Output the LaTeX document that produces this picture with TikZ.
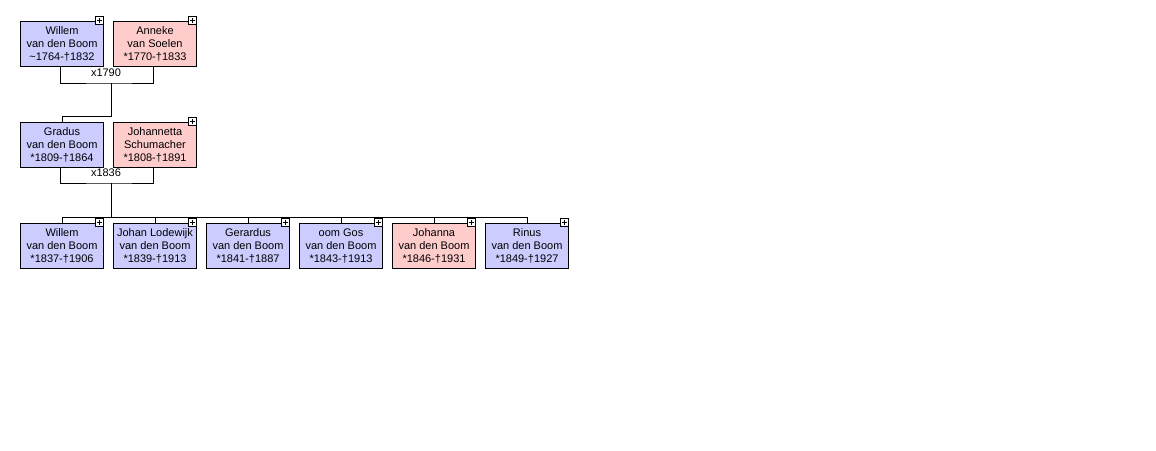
\documentclass[tikz,border=0pt]{standalone}
\usepackage{fontspec}
\setmainfont{Liberation Sans}
\definecolor{mblue}{HTML}{CCCCFF}
\definecolor{fpink}{HTML}{FFCCCC}
\tikzset{
  person/.style={draw=black, line width=1pt, minimum width=83pt, minimum height=45pt, inner sep=0pt,
    anchor=north west, align=center, font=\fontsize{11}{13}\selectfont},
  male/.style={person, fill=mblue},
  female/.style={person, fill=fpink},
  plusbox/.style={draw=black, line width=0.8pt, fill=white, minimum size=8pt, inner sep=0pt, anchor=east,
    path picture={
      \draw[line width=0.8pt] ([xshift=-2.6pt]path picture bounding box.center) -- ([xshift=2.6pt]path picture bounding box.center);
      \draw[line width=0.8pt] ([yshift=-2.6pt]path picture bounding box.center) -- ([yshift=2.6pt]path picture bounding box.center);
    }},
  conn/.style={draw=black, line width=1pt},
  mlabel/.style={font=\fontsize{11}{13}\selectfont, inner sep=0pt}
}
\begin{document}
\begin{tikzpicture}[x=1pt,y=-1pt]
\useasboundingbox (0,0) rectangle (1156,450);
% generation 1
\node[male]   (w1) at (20,21)  {Willem\\van den Boom\\\raisebox{0pt}{\textasciitilde}1764-†1832};
\node[female] (a1) at (113,21) {Anneke\\van Soelen\\*1770-†1833};
% generation 2
\node[male]   (g2) at (20,122)  {Gradus\\van den Boom\\*1809-†1864};
\node[female] (j2) at (113,122) {Johannetta\\Schumacher\\*1808-†1891};
% generation 3
\node[male]   (c1) at (20,223)  {Willem\\van den Boom\\*1837-†1906};
\node[male]   (c2) at (113,223) {Johan Lodewijk\\van den Boom\\*1839-†1913};
\node[male]   (c3) at (206,223) {Gerardus\\van den Boom\\*1841-†1887};
\node[male]   (c4) at (299,223) {oom Gos\\van den Boom\\*1843-†1913};
\node[female] (c5) at (392,223) {Johanna\\van den Boom\\*1846-†1931};
\node[male]   (c6) at (485,223) {Rinus\\van den Boom\\*1849-†1927};
% plus boxes
\foreach \n in {w1,a1,j2,c1,c2,c3,c4,c5,c6}
  \node[plusbox] (p\n) at ([yshift=0.5pt]\n.north east) {};
% marriage 1
\coordinate (m1) at (111,83);
\coordinate (b1) at (111,116);
\draw[conn] ([xshift=-2pt]w1.south) |- (m1) -| ([xshift=-2pt]a1.south);
\node[mlabel] (l1) at (106,73) {x1790};
\draw[conn] (m1) -- (b1) -| (g2.north);
% marriage 2
\coordinate (m2) at (111,183);
\coordinate (b2) at (111,217);
\draw[conn] ([xshift=-2pt]g2.south) |- (m2) -| ([xshift=-2pt]j2.south);
\node[mlabel] (l2) at (106,173) {x1836};
\draw[conn] (m2) -- (b2);
\draw[conn] (b2 -| c1.north) -- (b2 -| c6.north);
\foreach \n in {c1,c2,c3,c4,c5,c6}
  \draw[conn] (b2 -| \n.north) -- (\n.north);
\end{tikzpicture}
\end{document}
